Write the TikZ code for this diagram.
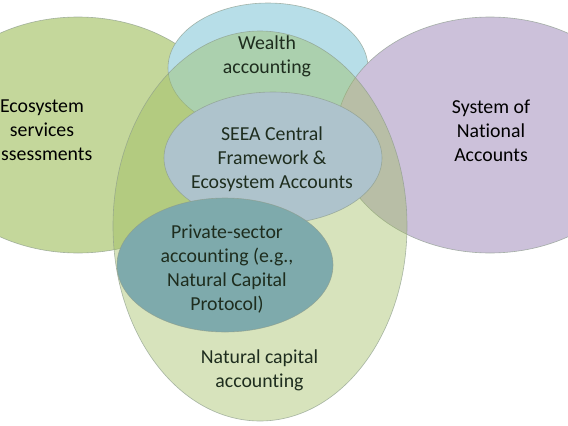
\documentclass[tikz,border=0pt]{standalone}
\usepackage{fontspec}
\setmainfont[Ligatures=NoCommon]{Carlito}
\usetikzlibrary{shapes.geometric}
\definecolor{leftc}{HTML}{C4D79B}
\definecolor{purplec}{HTML}{CCC1DA}
\definecolor{bluec}{HTML}{B7DEE8}
\definecolor{bigc}{HTML}{9BBB59}
\definecolor{seeac}{HTML}{AEC3CC}
\definecolor{privc}{HTML}{7EAAAC}
\definecolor{edgec}{HTML}{8C9C8C}
\definecolor{darktext}{HTML}{1E2D1E}
\begin{document}
\begin{tikzpicture}[x=1pt,y=-1pt,
  venn/.style={ellipse, inner sep=0pt, outer sep=0pt, draw=edgec, line width=0.6pt, draw opacity=0.7},
  lbl/.style={align=center, font=\fontsize{19.8}{24}\selectfont, inner sep=0pt, text=black}]
\useasboundingbox (0,0) rectangle (568,426);
\clip (0,0) rectangle (568,426);
\fill[white] (0,0) rectangle (568,426);
% back ellipses
\node[venn, fill=leftc, minimum width=308pt, minimum height=236pt] (eco) at (78,135) {};
\node[venn, fill=bluec, minimum width=200pt, minimum height=130pt] (wealth) at (268,68) {};
\node[venn, fill=purplec, minimum width=308pt, minimum height=236pt] (sna) at (490,135) {};
% natural capital (transparent)
\node[venn, fill=bigc, fill opacity=0.4, minimum width=294pt, minimum height=390pt] (ncap) at (260,226) {};
% inner ellipses
\node[venn, fill=seeac, minimum width=218pt, minimum height=132pt] (seea) at (273,158) {};
\node[venn, fill=privc, minimum width=216pt, minimum height=134pt] (priv) at (225,265) {};
% labels
\node[lbl, text=darktext] (wealtht) at (267,56.5) {Wealth\\accounting};
\node[lbl] (ecot) at (42,130.5) {Ecosystem\\services\\assessments};
\node[lbl] (snat) at (491,130.5) {System of\\National\\Accounts};
\node[lbl, text=darktext] (seeat) at (272,159.5) {SEEA Central\\Framework \&\\Ecosystem Accounts};
\node[lbl, text=darktext] (privt) at (227,269.5) {Private-sector\\accounting (e.g.,\\Natural Capital\\Protocol)};
\node[lbl, text=darktext] (ncapt) at (259.5,370) {Natural capital\\accounting};
\end{tikzpicture}
\end{document}
